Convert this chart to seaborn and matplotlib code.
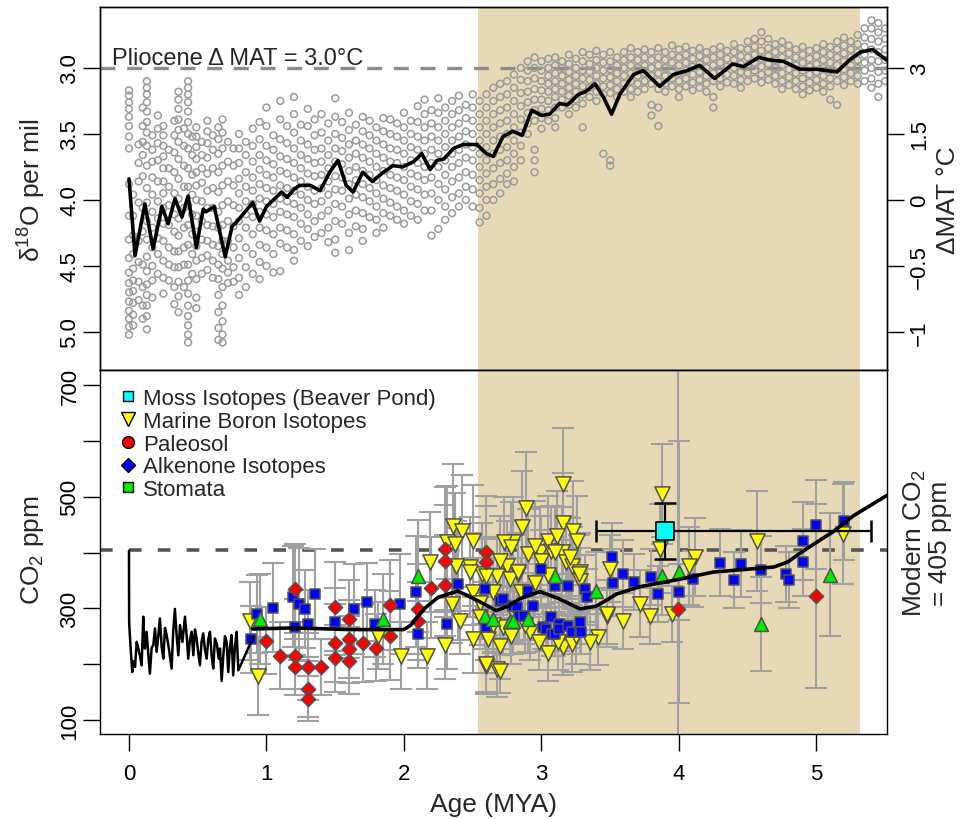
import numpy as np
import pandas as pd
import matplotlib
matplotlib.use('Agg')
import matplotlib.pyplot as plt
import seaborn as sns
from matplotlib.lines import Line2D

# ---------------- data: benthic d18O (top panel) ----------------
# one list of readings per age column (MYA)
d18o_age = [0.00, 0.03, 0.07, 0.10, 0.13, 0.17, 0.21, 0.25, 0.29, 0.33,
            0.36, 0.40, 0.43, 0.46, 0.49, 0.53, 0.57, 0.61, 0.65, 0.68,
            0.72, 0.76, 0.80, 0.85, 0.90, 0.95, 1.00, 1.05, 1.10, 1.15,
            1.20, 1.25, 1.30, 1.35, 1.40, 1.45, 1.50, 1.55, 1.60, 1.65,
            1.70, 1.75, 1.80, 1.85, 1.90, 1.95, 2.00, 2.05, 2.10, 2.15,
            2.20, 2.25, 2.30, 2.35, 2.40, 2.45, 2.50, 2.55, 2.60, 2.65,
            2.70, 2.75, 2.80, 2.85, 2.90, 2.95, 3.00, 3.05, 3.10, 3.15,
            3.20, 3.25, 3.30, 3.35, 3.40, 3.45, 3.50, 3.55, 3.60, 3.65,
            3.70, 3.75, 3.80, 3.85, 3.90, 3.95, 4.00, 4.05, 4.10, 4.15,
            4.20, 4.25, 4.30, 4.35, 4.40, 4.45, 4.50, 4.55, 4.60, 4.65,
            4.70, 4.75, 4.80, 4.85, 4.90, 4.95, 5.00, 5.05, 5.10, 5.15,
            5.20, 5.25, 5.30, 5.35, 5.40, 5.45, 5.50]
d18o_val = [
    [3.17, 3.21, 3.26, 3.31, 3.37, 3.44, 3.52, 3.61, 3.88, 4.12, 4.3, 4.44, 4.55, 4.63, 4.7, 4.77, 4.84, 4.9, 4.96, 5.02],
    [3.96, 4.12, 4.27, 4.41, 4.52, 4.61, 4.69, 4.78, 4.87, 4.95],
    [3.58, 3.72, 3.86, 4.02, 4.31, 4.47, 4.62, 4.76],
    [3.3, 3.44, 3.56, 3.66, 3.82, 4.06, 4.24, 4.49, 4.66, 4.8, 4.9],
    [3.1, 3.15, 3.2, 3.26, 3.33, 3.41, 3.49, 3.59, 3.74, 3.91, 4.02, 4.16, 4.3, 4.43, 4.54, 4.64, 4.72, 4.8, 4.88, 4.98],
    [3.51, 3.62, 3.71, 3.83, 3.96, 4.09, 4.21, 4.36, 4.5, 4.61, 4.74],
    [3.36, 3.46, 3.57, 3.7, 3.86, 4.01, 4.14, 4.29, 4.41, 4.56],
    [3.44, 3.51, 3.59, 3.67, 3.76, 3.86, 3.95, 4.06, 4.18, 4.31, 4.46, 4.59, 4.71],
    [3.62, 3.76, 3.9, 4.04, 4.19, 4.36, 4.49, 4.61],
    [3.4, 3.51, 3.64, 3.79, 3.95, 4.11, 4.24, 4.39, 4.51, 4.66, 4.79],
    [3.18, 3.24, 3.31, 3.39, 3.47, 3.56, 3.69, 3.84, 3.99, 4.14, 4.27, 4.39, 4.51, 4.62, 4.73, 4.85],
    [3.46, 3.59, 3.74, 3.9, 4.06, 4.21, 4.36, 4.49, 4.66],
    [3.1, 3.15, 3.2, 3.26, 3.33, 3.41, 3.5, 3.61, 3.76, 3.9, 4.04, 4.19, 4.34, 4.49, 4.61, 4.71, 4.8, 4.88, 4.95, 5.02, 5.08],
    [3.52, 3.66, 3.81, 3.96, 4.11, 4.26, 4.41, 4.56],
    [3.45, 3.52, 3.6, 3.69, 3.79, 3.89, 4.0, 4.12, 4.24, 4.35, 4.46, 4.6, 4.74, 4.82],
    [3.56, 3.66, 3.76, 3.87, 4.01, 4.16, 4.3, 4.44, 4.56],
    [3.4, 3.48, 3.57, 3.68, 3.8, 3.93, 4.06, 4.19, 4.31, 4.42, 4.53],
    [3.51, 3.62, 3.76, 3.91, 4.06, 4.2, 4.34, 4.46, 4.59],
    [3.45, 3.54, 3.65, 3.79, 3.94, 4.09, 4.21, 4.35, 4.49, 4.6, 4.72, 4.85, 4.97, 5.06],
    [3.39, 3.49, 3.61, 3.74, 3.89, 4.04, 4.19, 4.31, 4.41, 4.52, 4.66, 4.8, 4.92, 5.02, 5.08],
    [3.56, 3.71, 3.86, 4.01, 4.16, 4.31, 4.46, 4.55, 4.63],
    [3.61, 3.74, 3.89, 4.04, 4.2, 4.36, 4.51, 4.62],
    [3.5, 3.61, 3.72, 3.84, 3.95, 4.06, 4.16, 4.29, 4.44, 4.59, 4.72],
    [3.56, 3.66, 3.79, 3.9, 4.01, 4.11, 4.21, 4.36, 4.51, 4.66],
    [3.46, 3.59, 3.71, 3.83, 3.93, 4.03, 4.13, 4.26, 4.41, 4.56],
    [3.41, 3.54, 3.66, 3.77, 3.88, 3.99, 4.09, 4.21, 4.34, 4.47, 4.6],
    [3.3, 3.44, 3.59, 3.7, 3.81, 3.91, 4.01, 4.11, 4.23, 4.36, 4.5],
    [3.51, 3.62, 3.73, 3.83, 3.93, 4.03, 4.13, 4.26, 4.41, 4.55],
    [3.25, 3.39, 3.54, 3.67, 3.78, 3.89, 3.99, 4.09, 4.21, 4.33, 4.54],
    [3.44, 3.57, 3.69, 3.8, 3.91, 4.01, 4.11, 4.23, 4.36],
    [3.22, 3.35, 3.49, 3.61, 3.72, 3.83, 3.93, 4.03, 4.13, 4.26, 4.38, 4.46],
    [3.43, 3.55, 3.66, 3.76, 3.86, 3.96, 4.06, 4.18, 4.31],
    [3.31, 3.44, 3.58, 3.69, 3.8, 3.9, 4.0, 4.11, 4.22, 4.35],
    [3.39, 3.51, 3.62, 3.72, 3.82, 3.93, 4.03, 4.16, 4.28],
    [3.35, 3.49, 3.61, 3.71, 3.81, 3.91, 4.01, 4.12, 4.25],
    [3.42, 3.55, 3.66, 3.76, 3.86, 3.96, 4.08, 4.21, 4.32],
    [3.23, 3.37, 3.5, 3.61, 3.71, 3.82, 3.92, 4.03, 4.16, 4.3, 4.4],
    [3.41, 3.53, 3.63, 3.73, 3.83, 3.93, 4.05, 4.18],
    [3.34, 3.47, 3.58, 3.68, 3.78, 3.88, 3.99, 4.11, 4.25, 4.38],
    [3.43, 3.55, 3.65, 3.75, 3.85, 3.96, 4.08, 4.2],
    [3.37, 3.48, 3.58, 3.68, 3.78, 3.88, 3.98, 4.1, 4.22, 4.31],
    [3.4, 3.51, 3.61, 3.71, 3.81, 3.91, 4.01, 4.13],
    [3.45, 3.55, 3.65, 3.75, 3.85, 3.95, 4.05, 4.15, 4.25],
    [3.38, 3.48, 3.58, 3.68, 3.78, 3.89, 3.99, 4.1, 4.21],
    [3.39, 3.5, 3.61, 3.71, 3.81, 3.91, 4.02, 4.12],
    [3.42, 3.52, 3.62, 3.72, 3.83, 3.93, 4.05, 4.15],
    [3.34, 3.45, 3.55, 3.65, 3.75, 3.85, 3.96, 4.08, 4.18],
    [3.4, 3.5, 3.6, 3.7, 3.8, 3.9, 4.01, 4.12],
    [3.29, 3.41, 3.52, 3.62, 3.72, 3.82, 3.92, 4.03, 4.15],
    [3.24, 3.35, 3.45, 3.55, 3.65, 3.75, 3.85, 3.96, 4.08],
    [3.32, 3.42, 3.52, 3.62, 3.72, 3.83, 3.95, 4.08, 4.27],
    [3.23, 3.34, 3.45, 3.55, 3.65, 3.75, 3.88, 4.0, 4.22],
    [3.3, 3.4, 3.5, 3.6, 3.7, 3.81, 3.92, 4.05, 4.15],
    [3.25, 3.35, 3.45, 3.55, 3.65, 3.75, 3.86, 3.98, 4.1],
    [3.21, 3.32, 3.42, 3.52, 3.62, 3.72, 3.83, 3.95, 4.05],
    [3.28, 3.38, 3.48, 3.58, 3.68, 3.79, 3.9, 4.0],
    [3.2, 3.3, 3.4, 3.5, 3.6, 3.7, 3.81, 3.92, 4.05],
    [3.25, 3.35, 3.45, 3.55, 3.65, 3.75, 3.85, 3.95, 4.06, 4.17],
    [3.2, 3.3, 3.4, 3.5, 3.6, 3.7, 3.8, 3.9, 4.0, 4.12],
    [3.15, 3.25, 3.35, 3.45, 3.55, 3.65, 3.76, 3.88, 4.0],
    [3.12, 3.22, 3.32, 3.42, 3.52, 3.62, 3.72, 3.84, 3.95],
    [3.1, 3.2, 3.3, 3.4, 3.5, 3.6, 3.7, 3.8, 3.88],
    [3.05, 3.15, 3.25, 3.35, 3.45, 3.55, 3.65, 3.75, 3.86],
    [3.0, 3.09, 3.19, 3.29, 3.39, 3.49, 3.59, 3.7],
    [2.95, 3.02, 3.1, 3.18, 3.26, 3.34, 3.42, 3.5],
    [2.92, 3.0, 3.08, 3.16, 3.24, 3.32, 3.4, 3.62, 3.7, 3.79],
    [2.95, 3.02, 3.1, 3.17, 3.24, 3.31, 3.38, 3.46],
    [2.93, 3.0, 3.06, 3.12, 3.18, 3.25, 3.32, 3.4],
    [2.92, 2.98, 3.04, 3.1, 3.16, 3.22, 3.3, 3.38, 3.45],
    [2.95, 3.0, 3.06, 3.12, 3.18, 3.24, 3.3],
    [2.9, 2.97, 3.03, 3.09, 3.15, 3.21, 3.28, 3.35],
    [2.93, 3.0, 3.06, 3.12, 3.18, 3.24, 3.3],
    [2.88, 2.95, 3.02, 3.08, 3.14, 3.2, 3.27, 3.45],
    [2.9, 2.97, 3.03, 3.09, 3.15, 3.22],
    [2.87, 2.94, 3.0, 3.06, 3.12, 3.18, 3.25],
    [2.9, 2.96, 3.02, 3.08, 3.14, 3.2, 3.65],
    [2.88, 2.95, 3.01, 3.07, 3.13, 3.19, 3.7, 3.74],
    [2.92, 2.98, 3.04, 3.1, 3.16, 3.22],
    [2.88, 2.94, 3.0, 3.06, 3.12, 3.18],
    [2.85, 2.92, 2.98, 3.04, 3.1, 3.16, 3.22],
    [2.88, 2.94, 3.0, 3.06, 3.12, 3.18],
    [2.86, 2.92, 2.98, 3.04, 3.1, 3.16],
    [2.88, 2.94, 3.0, 3.06, 3.12, 3.28, 3.36],
    [2.85, 2.92, 2.98, 3.04, 3.1, 3.16, 3.3, 3.44],
    [2.88, 2.94, 3.0, 3.06, 3.12, 3.18],
    [2.83, 2.9, 2.96, 3.02, 3.08, 3.14],
    [2.86, 2.92, 2.98, 3.04, 3.1, 3.16, 3.22],
    [2.84, 2.9, 2.96, 3.02, 3.08, 3.14],
    [2.87, 2.93, 2.99, 3.05, 3.11, 3.17],
    [2.85, 2.91, 2.97, 3.03, 3.09, 3.15],
    [2.88, 2.94, 3.0, 3.06, 3.12, 3.18],
    [2.86, 2.92, 2.98, 3.04, 3.1, 3.22, 3.3],
    [2.84, 2.9, 2.96, 3.02, 3.08, 3.14],
    [2.87, 2.93, 2.99, 3.05, 3.11],
    [2.82, 2.88, 2.94, 3.0, 3.06, 3.12],
    [2.85, 2.91, 2.97, 3.03, 3.09, 3.15],
    [2.8, 2.86, 2.92, 2.98, 3.04, 3.1],
    [2.78, 2.84, 2.9, 2.96, 3.02, 3.08],
    [2.73, 2.8, 2.87, 2.93, 2.99, 3.05, 3.11],
    [2.78, 2.85, 2.91, 2.97, 3.03, 3.09],
    [2.82, 2.88, 2.94, 3.0, 3.06, 3.12],
    [2.8, 2.86, 2.92, 2.98, 3.04, 3.1, 3.16],
    [2.83, 2.89, 2.95, 3.01, 3.07, 3.13],
    [2.86, 2.92, 2.98, 3.04, 3.1, 3.16],
    [2.84, 2.9, 2.96, 3.02, 3.08, 3.14, 3.2],
    [2.87, 2.93, 2.99, 3.05, 3.11, 3.17],
    [2.85, 2.91, 2.97, 3.03, 3.09, 3.15],
    [2.82, 2.88, 2.94, 3.0, 3.06, 3.12, 3.18],
    [2.84, 2.9, 2.96, 3.02, 3.08, 3.14, 3.24],
    [2.8, 2.86, 2.92, 2.98, 3.04, 3.1, 3.28],
    [2.77, 2.83, 2.89, 2.95, 3.01, 3.07, 3.13],
    [2.8, 2.86, 2.92, 2.98, 3.04, 3.1],
    [2.75, 2.82, 2.88, 2.94, 3.0, 3.06, 3.12],
    [2.7, 2.77, 2.84, 2.9, 2.96, 3.02, 3.1],
    [2.64, 2.7, 2.78, 2.86, 2.94, 3.0, 3.08, 3.15],
    [2.66, 2.73, 2.8, 2.88, 2.95, 3.03, 3.12, 3.22],
    [2.7, 2.78, 2.86, 2.94, 3.02, 3.1],
]

# smoothed d18O curve
fit_age = [0.0, 0.044, 0.116, 0.175, 0.24, 0.285, 0.335, 0.385, 0.43, 0.49,
           0.54, 0.56, 0.62, 0.70, 0.75, 0.78, 0.86, 0.90, 0.95, 1.0,
           1.07, 1.11, 1.15, 1.2, 1.24, 1.32, 1.39, 1.46, 1.52, 1.58,
           1.63, 1.70, 1.77, 1.85, 1.92, 1.99, 2.07, 2.13, 2.19, 2.24,
           2.29, 2.36, 2.43, 2.53, 2.60, 2.65, 2.72, 2.79, 2.86, 2.93,
           3.00, 3.06, 3.13, 3.19, 3.27, 3.32, 3.39, 3.45, 3.51, 3.57,
           3.67, 3.74, 3.86, 3.96, 4.06, 4.15, 4.26, 4.39, 4.47, 4.58,
           4.66, 4.76, 4.88, 5.00, 5.15, 5.24, 5.32, 5.41, 5.51]
fit_d18o = [3.84, 4.42, 4.03, 4.37, 4.05, 4.18, 3.99, 4.13, 3.97, 4.36,
            4.07, 4.09, 4.05, 4.43, 4.2, 4.17, 4.07, 4.02, 4.16, 4.05,
            3.98, 3.94, 3.98, 3.92, 3.89, 3.89, 3.93, 3.79, 3.70, 3.89,
            3.94, 3.79, 3.86, 3.79, 3.74, 3.75, 3.71, 3.65, 3.77, 3.70,
            3.69, 3.61, 3.58, 3.58, 3.65, 3.67, 3.52, 3.48, 3.51, 3.32,
            3.36, 3.35, 3.27, 3.28, 3.20, 3.18, 3.12, 3.22, 3.35, 3.20,
            3.05, 3.02, 3.14, 3.05, 3.02, 2.98, 3.08, 2.97, 2.99, 2.92,
            2.94, 2.95, 3.01, 3.01, 3.03, 2.94, 2.88, 2.86, 2.94]

d18o_ticks = [3.0, 3.5, 4.0, 4.5, 5.0]
mat_labels = ['3', '1.5', '0', '\u22120.5', '\u22121']

# ---------------- data: CO2 proxies (bottom panel) ----------------
boron_age = [0.88, 0.94, 1.81, 1.98, 2.17, 2.30, 2.35, 2.41, 2.60, 2.68,
             2.50, 2.61, 2.70, 2.31, 2.36, 2.42, 2.50, 2.37, 2.48, 2.57,
             2.19, 2.38, 2.89, 2.86, 3.16, 2.79, 2.90, 2.99, 3.07, 3.16,
             3.23, 3.26, 3.15, 3.18, 3.22, 3.28, 2.75, 2.83, 2.68, 2.60,
             2.48, 2.92, 2.72, 3.16, 3.22, 3.41, 3.48, 3.59, 3.50, 3.28,
             3.88, 3.86, 4.12, 4.07, 4.57, 5.19, 3.72, 3.79, 3.95, 3.48,
             2.70, 2.73, 2.78, 2.95, 3.00, 3.05, 3.10, 3.21, 3.27, 3.11,
             2.70, 2.77, 2.83, 2.50, 2.55, 2.65, 2.85, 2.95, 3.05, 2.80,
             2.88, 2.98, 3.05, 3.12, 3.25, 3.35, 2.78, 2.65, 2.55, 2.60]
boron_co2 = [278, 179, 251, 215, 215, 234, 308, 278, 197, 191,
             245, 245, 233, 419, 448, 439, 421, 416, 374, 362,
             383, 376, 480, 446, 523, 419, 398, 401, 403, 452,
             439, 421, 401, 383, 376, 365, 376, 362, 358, 358,
             365, 258, 267, 231, 236, 249, 287, 278, 371, 349,
             505, 407, 392, 376, 421, 433, 308, 287, 290, 290,
             188, 419, 410, 412, 385, 421, 401, 392, 362, 430,
             385, 353, 365, 330, 310, 330, 330, 345, 360, 290,
             270, 240, 220, 240, 250, 240, 250, 270, 285, 200]
boron_err = [70, 70, 60, 60, 60, 60, 70, 60, 50, 50,
             60, 60, 60, 100, 110, 100, 100, 90, 90, 90,
             90, 80, 100, 100, 100, 80, 80, 80, 80, 90,
             90, 80, 80, 80, 70, 70, 80, 70, 70, 70,
             70, 50, 50, 50, 50, 50, 50, 50, 60, 60,
             90, 80, 70, 70, 90, 90, 60, 50, 50, 60,
             40, 80, 80, 80, 80, 80, 80, 70, 70, 80,
             80, 70, 70, 60, 60, 60, 60, 60, 60, 50,
             50, 50, 50, 50, 50, 50, 50, 50, 50, 50]

alk_age = [0.89, 0.93, 1.05, 1.19, 1.21, 1.24, 1.28, 1.30, 1.35, 1.50,
           1.64, 1.73, 1.79, 1.97, 2.09, 2.10, 2.31, 2.39, 2.59, 2.60,
           2.70, 2.72, 2.79, 2.82, 2.84, 2.87, 2.90, 2.94, 3.00, 3.01,
           3.03, 3.07, 3.08, 3.10, 3.10, 3.13, 3.13, 3.19, 3.19, 3.22,
           3.28, 3.28, 3.29, 3.32, 3.33, 3.51, 3.52, 3.59, 3.67, 3.80,
           3.85, 4.00, 4.10, 4.30, 4.40, 4.45, 4.60, 4.78, 4.80, 4.90,
           4.90, 5.00, 5.20]
alk_co2 = [245, 290, 301, 321, 267, 308, 299, 272, 326, 276,
           299, 312, 272, 308, 330, 254, 272, 344, 335, 267,
           313, 317, 304, 303, 287, 287, 331, 304, 371, 267,
           263, 285, 254, 254, 340, 272, 263, 340, 269, 258,
           276, 258, 258, 335, 320, 392, 346, 362, 347, 356,
           326, 330, 353, 382, 351, 380, 369, 362, 351, 421,
           383, 450, 457]
alk_err = [60, 70, 80, 90, 50, 100, 70, 60, 80, 60,
           80, 70, 60, 90, 100, 60, 80, 100, 90, 60,
           60, 70, 60, 60, 50, 50, 60, 60, 70, 40,
           40, 40, 40, 40, 60, 40, 40, 60, 40, 40,
           40, 40, 40, 60, 50, 60, 60, 60, 50, 50,
           50, 50, 50, 60, 50, 60, 60, 50, 50, 70,
           60, 80, 70]

paleo_age = [1.00, 1.10, 1.21, 1.21, 1.21, 1.30, 1.40, 1.30, 1.30, 1.50,
             1.60, 1.50, 1.60, 1.60, 1.50, 1.60, 1.70, 1.80, 1.90, 1.90,
             2.10, 2.10, 2.20, 2.30, 2.30, 2.30, 2.60, 2.60, 3.99, 5.00]
paleo_co2 = [242, 215, 335, 215, 195, 195, 195, 156, 138, 303,
             281, 238, 245, 227, 211, 206, 238, 229, 306, 251,
             299, 278, 337, 341, 407, 385, 401, 383, 299, 322]
paleo_err = [60, 60, 80, 60, 50, 60, 50, 50, 40, 80,
             70, 70, 70, 60, 60, 60, 70, 60, 80, 80,
             80, 70, 90, 90, 110, 100, 100, 100, 460, 165]

stom_age = [0.95, 1.85, 2.10, 2.59, 2.65, 2.77, 2.79, 2.90, 3.10, 3.40,
            3.88, 4.00, 4.60, 5.10]
stom_co2 = [281, 281, 358, 287, 281, 278, 278, 281, 358, 331,
            358, 365, 272, 360]
stom_err = [80, 80, 100, 60, 60, 60, 60, 60, 70, 70,
            70, 235, 85, 110]

moss_age = [3.90]
moss_co2 = [439]
moss_yerr = [50]
moss_xerr_lo = [0.50]
moss_xerr_hi = [1.50]

# ice core record and smoothed CO2 curve
ice_age = [0.000, 0.001, 0.012, 0.024, 0.034, 0.044, 0.056, 0.068, 0.080, 0.092,
           0.104, 0.110, 0.116, 0.128, 0.140, 0.152, 0.165, 0.177, 0.189, 0.201,
           0.213, 0.225, 0.238, 0.250, 0.262, 0.274, 0.292, 0.310, 0.322, 0.334,
           0.347, 0.359, 0.371, 0.389, 0.407, 0.420, 0.431, 0.444, 0.456, 0.468,
           0.480, 0.492, 0.504, 0.516, 0.528, 0.540, 0.553, 0.565, 0.577, 0.589,
           0.601, 0.613, 0.625, 0.640, 0.652, 0.662, 0.674, 0.686, 0.698, 0.710,
           0.722, 0.734, 0.746, 0.758, 0.770, 0.783, 0.795, 0.905]
ice_co2 = [403, 276, 228, 186, 205, 195, 240, 228, 215, 198,
           285, 240, 228, 258, 220, 183, 230, 234, 264, 222,
           250, 282, 230, 210, 265, 252, 225, 192, 260, 299,
           250, 216, 270, 240, 285, 250, 210, 245, 258, 216,
           262, 246, 220, 198, 240, 255, 225, 210, 245, 258,
           215, 192, 246, 235, 210, 228, 170, 215, 250, 240,
           186, 230, 252, 180, 230, 258, 189, 249]
co2fit_age = [0.90, 1.2, 1.6, 2.0, 2.05, 2.15, 2.25, 2.39, 2.47, 2.55,
              2.67, 2.76, 2.84, 2.99, 3.13, 3.28, 3.40, 3.55, 3.72, 3.96,
              4.25, 4.54, 4.69, 4.79, 4.93, 5.12, 5.27, 5.51]
co2fit_val = [263, 265, 262, 262, 270, 300, 320, 331, 322, 312,
              296, 304, 317, 330, 317, 299, 304, 326, 339, 350,
              365, 371, 374, 383, 407, 437, 466, 502]

co2_ticks = [100, 200, 300, 400, 500, 600, 700]
age_ticks = [0, 1, 2, 3, 4, 5]
pliocene = (2.54, 5.32)

# ---------------- figure ----------------
sns.set_style('ticks')
plt.rcParams['font.family'] = ['Liberation Sans', 'DejaVu Sans']
plt.rcParams['mathtext.fontset'] = 'custom'
plt.rcParams['mathtext.rm'] = 'Liberation Sans'
plt.rcParams['mathtext.it'] = 'Liberation Sans:italic'

fig = plt.figure(figsize=(9.64, 8.2), dpi=100)
ax1 = fig.add_axes([0.1037, 0.5476, 0.8164, 0.4427])
ax2 = fig.add_axes([0.1037, 0.1037, 0.8164, 0.4439])

xlim = (-0.211, 5.513)
tan = '#E8D9B6'
tick_fs = 16
lab_fs = 19

# top panel
df_d18o = pd.DataFrame({
    'age': np.concatenate([[a] * len(v) for a, v in zip(d18o_age, d18o_val)]),
    'd18o': np.concatenate(d18o_val),
})
ax1.axvspan(*pliocene, color=tan, lw=0, zorder=0)
ax1.axhline(3.0, color='#8c8c8c', lw=2.4, ls=(0, (4.5, 3.5)), zorder=1)
sns.scatterplot(data=df_d18o, x='age', y='d18o', ax=ax1, marker='o', s=24,
                color='none', edgecolor='#9a9a9a', linewidth=1.1, zorder=2)
sns.lineplot(x=fit_age, y=fit_d18o, ax=ax1, color='black', lw=2.6,
             estimator=None, sort=False, zorder=3)
ax1.text(-0.12, 2.97, 'Pliocene \u0394 MAT = 3.0\u00b0C', fontsize=17,
         ha='left', va='baseline', zorder=4)
ax1.set_xlim(xlim)
ax1.set_ylim(5.288, 2.538)
ax1.set_yticks(d18o_ticks)
ax1.set_yticklabels(['%.1f' % t for t in d18o_ticks])
ax1.tick_params(axis='x', bottom=False, labelbottom=False)
ax1.set_xlabel('')
ax1.set_ylabel('')

ax1r = ax1.twinx()
ax1r.set_ylim(ax1.get_ylim())
ax1r.set_yticks(d18o_ticks)
ax1r.set_yticklabels(mat_labels)

# bottom panel
ax2.axvspan(*pliocene, color=tan, lw=0, zorder=0)
ax2.axhline(405, color='#555555', lw=2.6, ls=(0, (3.5, 4.5)), zorder=1)

proxies = [
    (boron_age, boron_co2, boron_err, 'v', '#FFFF00', 120),
    (alk_age, alk_co2, alk_err, 's', '#0000FF', 56),
    (paleo_age, paleo_co2, paleo_err, 'D', '#FF0000', 52),
    (stom_age, stom_co2, stom_err, '^', '#00EE00', 100),
]
for age, co2, err, mk, col, size in proxies:
    ax2.errorbar(age, co2, yerr=err, fmt='none', ecolor='#a0a0a0',
                 elinewidth=1.5, capsize=8, capthick=1.5, zorder=2)
for age, co2, err, mk, col, size in proxies:
    sns.scatterplot(x=age, y=co2, ax=ax2, marker=mk, s=size, color=col,
                    edgecolor='#505050', linewidth=1.1, zorder=3)

ax2.errorbar(moss_age, moss_co2, yerr=moss_yerr,
             xerr=[moss_xerr_lo, moss_xerr_hi], fmt='none', ecolor='black',
             elinewidth=1.6, capsize=8, capthick=1.8, zorder=4)
sns.scatterplot(x=moss_age, y=moss_co2, ax=ax2, marker='s', s=150,
                color='#00FFFF', edgecolor='black', linewidth=1.2, zorder=5)

sns.lineplot(x=ice_age, y=ice_co2, ax=ax2, color='black', lw=1.8,
             estimator=None, sort=False, zorder=6)
sns.lineplot(x=co2fit_age, y=co2fit_val, ax=ax2, color='black', lw=2.6,
             estimator=None, sort=False, zorder=6)

ax2.set_xlim(xlim)
ax2.set_ylim(75, 727)
ax2.set_xticks(age_ticks)
ax2.set_yticks(co2_ticks)
ax2.set_yticklabels([str(t) if t % 200 == 100 else '' for t in co2_ticks])
ax2.set_xlabel('Age (MYA)', fontsize=lab_fs, labelpad=6)
ax2.set_ylabel('')

handles = [
    Line2D([], [], ls='none', marker='s', ms=6.5, mfc='#00FFFF', mec='black', mew=1),
    Line2D([], [], ls='none', marker='v', ms=10, mfc='#FFFF00', mec='black', mew=1),
    Line2D([], [], ls='none', marker='o', ms=8.5, mfc='#FF0000', mec='black', mew=1),
    Line2D([], [], ls='none', marker='D', ms=7, mfc='#0000FF', mec='black', mew=1),
    Line2D([], [], ls='none', marker='s', ms=6.5, mfc='#00EE00', mec='black', mew=1),
]
names = ['Moss Isotopes (Beaver Pond)', 'Marine Boron Isotopes', 'Paleosol',
         'Alkenone Isotopes', 'Stomata']
ax2.legend(handles, names, loc='upper left', bbox_to_anchor=(0.004, 0.99),
           frameon=False, fontsize=16, handlelength=0.9, handletextpad=0.25,
           labelspacing=0.08, borderaxespad=0.35, borderpad=0.3)

# axis styling in the base-graphics look
for ax in (ax1, ax1r, ax2):
    for sp in ax.spines.values():
        sp.set_visible(True)
        sp.set_linewidth(1.0)
        sp.set_color('black')
    ax.tick_params(direction='out', length=12, width=1, labelsize=tick_fs,
                   colors='black', pad=2)
ax2.tick_params(axis='x', pad=9)
for ax in (ax1, ax2):
    ax.tick_params(axis='y', labelrotation=90)
    for lbl in ax.get_yticklabels():
        lbl.set_va('center')
ax1r.tick_params(axis='y', labelrotation=90, pad=4)
for lbl in ax1r.get_yticklabels():
    lbl.set_va('center')

fig.text(32 / 964, 1 - 190 / 820, '\u03b4$^{18}$O per mil', rotation=90,
         ha='center', va='center', fontsize=lab_fs)
fig.text(32 / 964, 1 - 550 / 820, 'CO$_2$ ppm', rotation=90,
         ha='center', va='center', fontsize=lab_fs)
fig.text(948 / 964, 1 - 200 / 820, '\u0394MAT \u00b0C', rotation=90,
         ha='center', va='center', fontsize=lab_fs)
fig.text(926 / 964, 1 - 543 / 820, 'Modern CO$_2$\n= 405 ppm', rotation=90,
         ha='center', va='center', fontsize=lab_fs, multialignment='center',
         linespacing=1.0)

fig.savefig('out.png', dpi=100)
